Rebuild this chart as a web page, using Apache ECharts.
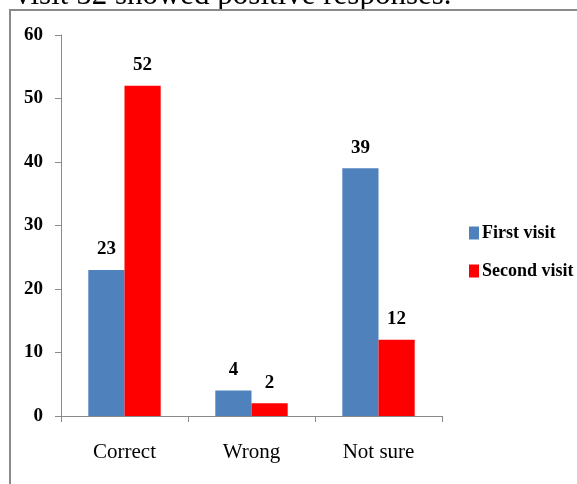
<!DOCTYPE html>
<html>
<head>
<meta charset="utf-8">
<script src="https://cdn.jsdelivr.net/npm/echarts@6/dist/echarts.min.js"></script>
<style>
  html, body { margin: 0; padding: 0; background: #fff; }
  #chart { width: 577px; height: 484px; }
</style>
</head>
<body>
<div id="chart"></div>
<script>
// Responses by visit
const categories = ['Correct', 'Wrong', 'Not sure'];
const firstVisit = [23, 4, 39];
const secondVisit = [52, 2, 12];
const seriesNames = ['First visit', 'Second visit'];
const yTicks = { min: 0, max: 60, interval: 10 };

const serif = '"Liberation Serif", "Times New Roman", serif';
const chart = echarts.init(document.getElementById('chart'), null, { renderer: 'canvas' });

const valueLabel = {
  show: true,
  position: 'top',
  distance: 11,
  fontFamily: serif,
  fontWeight: 'bold',
  fontSize: 19,
  color: '#000'
};

chart.setOption({
  animation: false,
  backgroundColor: '#fff',
  graphic: [
    {
      type: 'text',
      left: 15,
      top: -20,
      style: {
        text: 'visit 52 showed positive responses.',
        font: '31px ' + serif,
        fill: '#000'
      }
    },
    {
      type: 'rect',
      shape: { x: 10, y: 10, width: 620, height: 520 },
      style: { fill: 'none', stroke: '#8a8a8a', lineWidth: 2 }
    }
  ],
  legend: {
    orient: 'vertical',
    left: 464,
    top: 219,
    itemWidth: 10,
    itemHeight: 13,
    itemGap: 20,
    icon: 'rect',
    textStyle: { fontFamily: serif, fontSize: 18, fontWeight: 'bold', color: '#000', padding: [0, 0, 0, -2] },
    data: seriesNames
  },
  grid: { left: 61, right: 135, top: 35, bottom: 68, containLabel: false },
  xAxis: {
    type: 'category',
    data: categories,
    axisLine: { lineStyle: { color: '#8a8a8a', width: 1 } },
    axisTick: { show: true, length: 6, lineStyle: { color: '#8a8a8a' } },
    axisLabel: { fontFamily: serif, fontSize: 21, color: '#000', margin: 26 }
  },
  yAxis: {
    type: 'value',
    min: yTicks.min,
    max: yTicks.max,
    interval: yTicks.interval,
    splitLine: { show: false },
    axisLine: { show: true, lineStyle: { color: '#8a8a8a', width: 1 } },
    axisTick: { show: true, length: 6, lineStyle: { color: '#8a8a8a' } },
    axisLabel: { fontFamily: serif, fontSize: 19, fontWeight: 'bold', color: '#000', margin: 18 }
  },
  series: [
    {
      name: seriesNames[0],
      type: 'bar',
      data: firstVisit,
      barGap: '0%',
      barCategoryGap: '43%',
      itemStyle: { color: '#4F81BD' },
      label: valueLabel
    },
    {
      name: seriesNames[1],
      type: 'bar',
      data: secondVisit,
      itemStyle: { color: '#FF0000' },
      label: valueLabel
    }
  ]
});
</script>
</body>
</html>
